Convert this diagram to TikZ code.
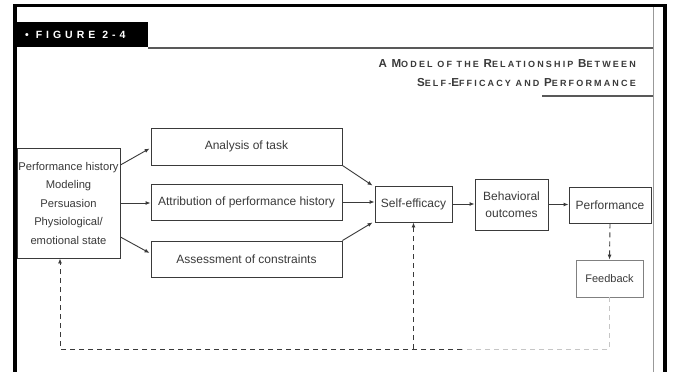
\documentclass[tikz,border=0pt]{standalone}
\usepackage{fontspec}
\setmainfont{Liberation Sans}
\newfontfamily\titlefont[LetterSpace=24]{Liberation Sans}
\newfontfamily\labelfont[LetterSpace=38]{Liberation Sans}
\usetikzlibrary{arrows.meta}
\newcommand\BL[1]{{\fontsize{11.6}{19}\selectfont #1}}
\definecolor{ink}{HTML}{3A3A3A}
\tikzset{
  box/.style={draw=ink, line width=0.9pt, inner sep=1pt, align=center,
    font=\fontsize{12}{18}\selectfont, text=ink},
  arr/.style={draw=ink, line width=0.9pt, -{Latex[length=5pt,width=4pt]}},
  darr/.style={draw=ink, line width=0.9pt, dash pattern=on 5pt off 4pt, -{Latex[length=5pt,width=4pt]}},
  dline/.style={draw=ink, line width=0.9pt, dash pattern=on 5pt off 4pt},
}
\begin{document}
\begin{tikzpicture}[x=1pt,y=-1pt]
\useasboundingbox (0,0) rectangle (673,372);
\fill[white] (0,0) rectangle (673,372);
% frame
\fill[black] (13,4) rectangle (667,7);
\fill[black] (13,4) rectangle (16.5,372);
\fill[black] (663,4) rectangle (667,372);
\draw[gray!80, line width=0.8pt] (653,7) -- (653,372);
\draw[gray!70!black, line width=1.2pt] (148,48) -- (653,48);
\draw[gray!70!black, line width=1.2pt] (542,96) -- (653,96);
% figure label
\fill[black] (16,22) rectangle (148,47);
\node[text=white, font=\labelfont\bfseries\fontsize{10.5}{12}\selectfont, anchor=west, inner sep=0] (lab) at (25,35) {• FIGURE 2-4};
% title
\node[anchor=east, align=right, inner sep=0, text=ink, font=\titlefont\bfseries\fontsize{9}{19}\selectfont] (title) at (636,73)
  {\BL{A} \BL{M}ODEL OF THE \BL{R}ELATIONSHIP \BL{B}ETWEEN\\ \BL{S}ELF-\BL{E}FFICACY AND \BL{P}ERFORMANCE};
% nodes
\node[box, minimum width=103pt, minimum height=110pt, font=\fontsize{11.2}{18.5}\selectfont] (src) at (68.5,203)
  {Performance history\\Modeling\\Persuasion\\Physiological/\\emotional state};
\node[box, minimum width=191pt, minimum height=37pt] (ana) at (246.5,146.5) {Analysis of task};
\node[box, minimum width=191pt, minimum height=36pt] (att) at (246.5,202) {Attribution of performance history};
\node[box, minimum width=191pt, minimum height=36pt] (ass) at (246.5,259) {Assessment of constraints};
\node[box, minimum width=77pt, minimum height=36pt] (se) at (413.5,204) {Self-efficacy};
\node[box, minimum width=73pt, minimum height=51pt, font=\fontsize{12}{17}\selectfont] (beh) at (511.5,204.5) {Behavioral\\outcomes};
\node[box, minimum width=82pt, minimum height=36pt] (perf) at (610,205) {Performance};
\node[box, draw=gray, minimum width=67pt, minimum height=37pt, font=\fontsize{11}{16}\selectfont] (fb) at (609.5,278.5) {Feedback};
% connectors
\draw[arr] ([yshift=38pt]src.east) -- ([yshift=-2pt,xshift=-1pt]ana.west);
\draw[arr] (src.east) -- (src.east -| att.west);
\draw[arr] ([yshift=-34pt]src.east) -- ([yshift=6pt,xshift=-1pt]ass.west);
\draw[arr] (ana.south east) -- ([xshift=-2pt]se.north west);
\draw[arr] (att.east) -- (att.east -| se.west);
\draw[arr] (ass.north east) -- ([xshift=-2pt]se.south west);
\draw[arr] (se.east) -- (se.east -| beh.west);
\draw[arr] (beh.east) -- (beh.east -| perf.west);
\draw[darr] (perf.south) -- (fb.north);
% feedback loop
\coordinate (fc) at (609.5,349);
\coordinate (mc) at (462,349);
\coordinate (lc) at (60,349);
\coordinate (sc) at (413.5,349);
\draw[dline, draw=gray!45] (fb.south) -- (fc) -- (mc);
\draw[darr] (mc) -- (lc) -- (lc |- src.south);
\draw[darr] (sc) -- (se.south);
\end{tikzpicture}
\end{document}
